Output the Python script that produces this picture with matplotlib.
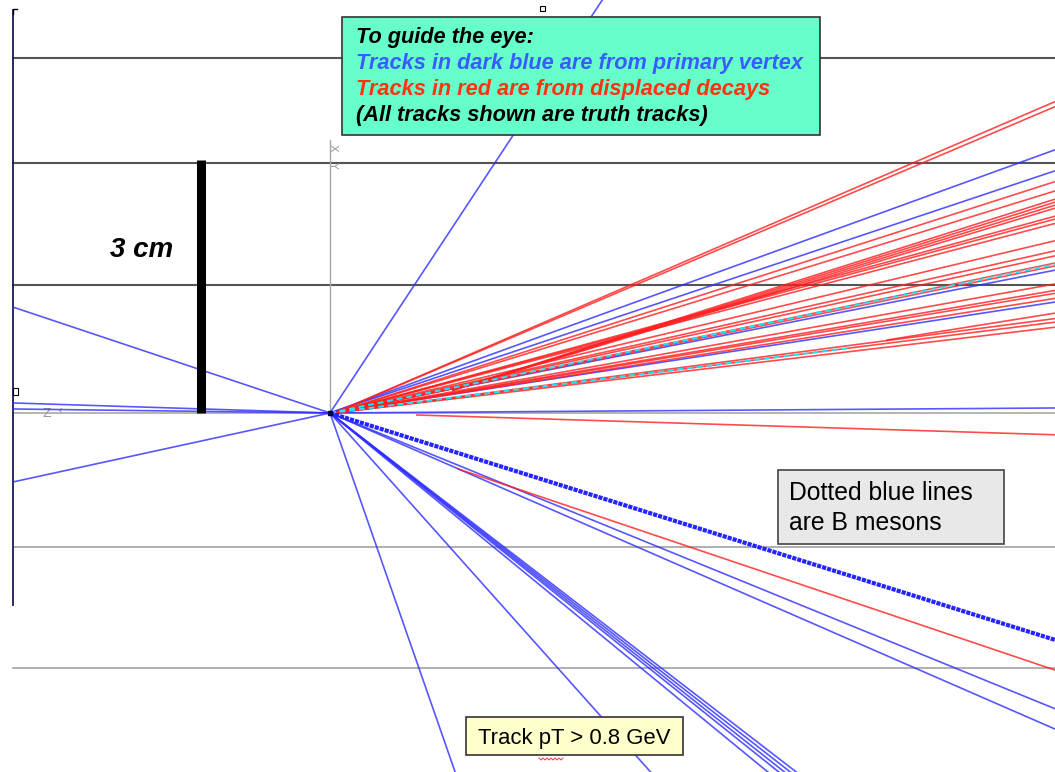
import numpy as np
import matplotlib
matplotlib.use("Agg")
import matplotlib.pyplot as plt
from matplotlib.patches import Rectangle
from matplotlib.lines import Line2D

# ---------------------------------------------------------------
# Event display (r-z view), all lengths in cm, primary vertex at 0,0
# ---------------------------------------------------------------
Z_MIN, Z_MAX = -3.915, 8.600
Y_MIN, Y_MAX = -4.259, 4.899
FRAME_Z = -3.76            # left edge of the detector frame

# detector layers (y positions, cm)
layers_dark = [1.52, 2.97, 4.21]
layers_light = [-1.59, -3.03]

# primary-vertex tracks: slope dy/dz and the z where the track is cut
pv_slopes = [1.517, -0.334, 0.2176, -0.0316, -0.0126,
             0.0069, 0.363, 0.334, 0.197, 0.153,
             -0.408, -0.436,
             -0.77, -0.78, -0.79, -0.80, -0.82,
             -1.12, -2.87]
pv_zend = [Z_MAX, FRAME_Z, FRAME_Z, FRAME_Z, FRAME_Z,
           Z_MAX, Z_MAX, Z_MAX, Z_MAX, Z_MAX,
           Z_MAX, Z_MAX,
           Z_MAX, Z_MAX, Z_MAX, Z_MAX, Z_MAX,
           Z_MAX, Z_MAX]

# B meson (dotted) and short-lived flight lines (dashed cyan)
bmeson_slopes = [-0.313]
bmeson_zend = [Z_MAX]
cyan_slopes = [0.205, 0.125]
cyan_zend = [Z_MAX, 6.13]

# displaced decay vertices (z, y)
decay_z = [0.05, 1.46, 1.52, 6.61, 1.03]
decay_y = [0.00, 0.273, -0.664, 0.866, -0.024]

# tracks from displaced decays: vertex index and slope
red_vertex = [0] * 19 + [1, 1, 1, 1, 2, 3, 4]
red_slopes = [0.432, 0.425, 0.321, 0.308, 0.273, 0.269, 0.263,
              0.239, 0.225, 0.218, 0.208, 0.204, 0.179, 0.170,
              0.166, 0.159, 0.131, 0.126, 0.119,
              0.317, 0.312, 0.307, 0.302,
              -0.337, 0.160, -0.031]

SCALE_BAR_Z = -1.53
SCALE_BAR_LEN = 3.0

BLUE = "#2d2dff"
RED = "#ff1e1e"
CYAN = "#19e6ff"

fig = plt.figure(figsize=(10.55, 7.72), dpi=100)
ax = fig.add_axes([0, 0, 1, 1])
ax.set_xlim(Z_MIN, Z_MAX)
ax.set_ylim(Y_MIN, Y_MAX)
ax.axis("off")

# layers
for y in layers_dark:
    ax.plot([FRAME_Z, Z_MAX], [y, y], color="#555555", lw=1.5, zorder=1)
for y in layers_light:
    ax.plot([FRAME_Z, Z_MAX], [y, y], color="#9a9a9a", lw=1.1, zorder=1)

# coordinate axes of the display
ax.plot([FRAME_Z, Z_MAX], [0, 0], color="#a8a8a8", lw=1.2, zorder=1)
ax.plot([0, 0], [0, 3.24], color="#a8a8a8", lw=1.0, zorder=1)
ax.text(0.03, 3.19, "X", color="#9a9a9a", fontsize=8, rotation=-90,
        ha="center", va="top", zorder=1)
ax.text(0.03, 2.98, "Y", color="#9a9a9a", fontsize=8, rotation=-90,
        ha="center", va="top", zorder=1)
ax.text(-3.36, -0.01, "Z", color="#9a9a9a", fontsize=9, ha="center",
        va="center", zorder=1)
ax.text(-3.20, 0.03, "‹", color="#9a9a9a", fontsize=9, ha="center",
        va="center", zorder=1)

# left frame
ax.plot([FRAME_Z, FRAME_Z], [-2.28, 4.78], color="#1a1a55", lw=1.3, zorder=2)

# primary-vertex tracks
for s, ze in zip(pv_slopes, pv_zend):
    ax.plot([0, ze], [0, s * ze], color=BLUE, lw=1.2, alpha=0.8, zorder=3)

# displaced-decay tracks
for vi, s in zip(red_vertex, red_slopes):
    z0, y0 = decay_z[vi], decay_y[vi]
    ax.plot([z0, Z_MAX], [y0, y0 + s * (Z_MAX - z0)], color=RED, lw=1.2,
            alpha=0.8, zorder=4)

# cyan flight lines
for s, ze in zip(cyan_slopes, cyan_zend):
    ax.plot([0, ze], [0, s * ze], color=CYAN, lw=1.4, dashes=(3, 2),
            zorder=5)

# B meson
for s, ze in zip(bmeson_slopes, bmeson_zend):
    ax.plot([0, ze], [0, s * ze], color="#2424ff", lw=3.0,
            dashes=(1.0, 0.25), zorder=5)

# 3 cm scale bar
ax.plot([SCALE_BAR_Z, SCALE_BAR_Z], [0, SCALE_BAR_LEN], color="black",
        lw=6.5, solid_capstyle="butt", zorder=6)

# vertex marker
ax.plot([0], [0], marker="s", ms=3, color="#000044", zorder=7)


def fx(px):
    return px / 1055.0


def fy(py):
    return 1.0 - py / 772.0


def box(x0, y0, x1, y1, face, edge="#333333"):
    fig.patches.append(Rectangle((fx(x0), fy(y1)), fx(x1) - fx(x0),
                                 fy(y0) - fy(y1), transform=fig.transFigure,
                                 facecolor=face, edgecolor=edge, lw=1.2,
                                 zorder=10))


FONT = ["Liberation Sans", "DejaVu Sans"]

fig.text(fx(110), fy(257), "3 cm", fontsize=20, fontweight="bold",
         style="italic", family=FONT, va="baseline", ha="left")

# guide box
box(342, 17, 820, 135, "#66ffcc")
guide_lines = ["To guide the eye:",
               "Tracks in dark blue are from primary vertex",
               "Tracks in red are from displaced decays",
               "(All tracks shown are truth tracks)"]
guide_colors = ["black", "#3a5cff", "#ff3311", "black"]
for i, (t, c) in enumerate(zip(guide_lines, guide_colors)):
    fig.text(fx(356), fy(43 + 26 * i), t, color=c, fontsize=15.7,
             fontweight="bold", style="italic", family=FONT,
             va="baseline", ha="left", zorder=11)

# B meson note
box(778, 470, 1004, 544, "#e8e8e8", "#444444")
fig.text(fx(789), fy(500), "Dotted blue lines", fontsize=17.8, family=FONT,
         va="baseline", ha="left", zorder=11)
fig.text(fx(789), fy(530), "are B mesons", fontsize=17.8, family=FONT,
         va="baseline", ha="left", zorder=11)

# pT cut note
box(466, 717, 683, 755, "#ffffcc", "#333333")
fig.text(fx(478), fy(744), "Track pT > 0.8 GeV", fontsize=15.9, family=FONT,
         va="baseline", ha="left", zorder=11)
wx = np.linspace(539, 563, 13)
wy = 759 + np.where(np.arange(13) % 2 == 0, -1.0, 1.0)
fig.lines.append(Line2D(fx(wx), fy(wy), transform=fig.transFigure,
                        color="#ff3333", lw=0.7, zorder=12))

# small selection handles
fig.lines.append(Line2D([fx(13), fx(13), fx(17)], [fy(14), fy(9), fy(9)],
                        transform=fig.transFigure, color="black", lw=1))
fig.patches.append(Rectangle((fx(13), fy(395)), fx(5), 7 / 772,
                             transform=fig.transFigure, facecolor="white",
                             edgecolor="black", lw=0.8, zorder=8))
fig.patches.append(Rectangle((fx(540), fy(11)), fx(5), 5 / 772,
                             transform=fig.transFigure, facecolor="white",
                             edgecolor="black", lw=0.8, zorder=8))

fig.savefig("out.png", dpi=100)
